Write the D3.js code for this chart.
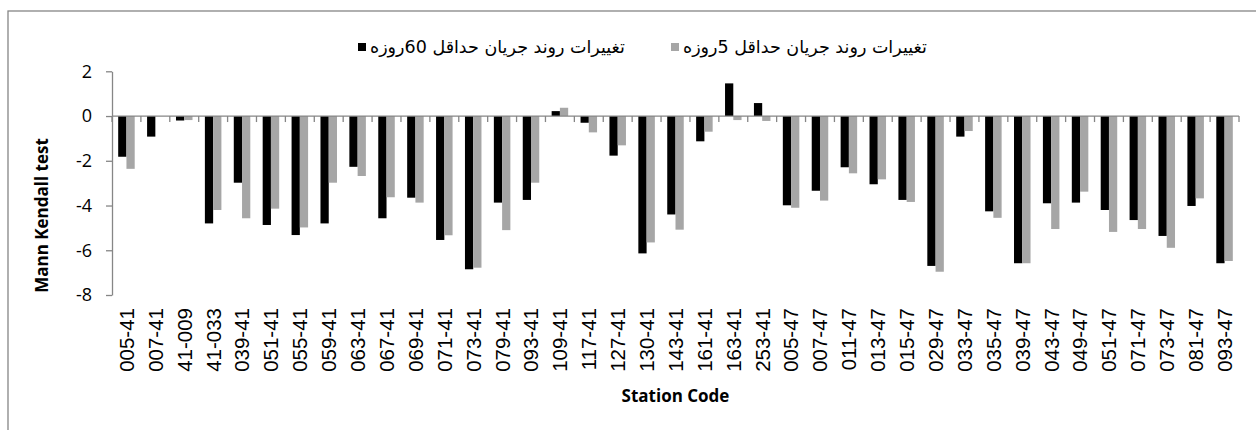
<!DOCTYPE html>
<html><head><meta charset="utf-8">
<script src="https://cdn.jsdelivr.net/npm/d3@7"></script>
<style>
html,body{margin:0;padding:0;background:#fff;}
svg{display:block;}
</style></head>
<body>
<svg id="chart" width="1256" height="430"></svg>
<script>
const categories = ["005-41","007-41","41-009","41-033","039-41","051-41","055-41","059-41","063-41","067-41","069-41","071-41","073-41","079-41","093-41","109-41","117-41","127-41","130-41","143-41","161-41","163-41","253-41","005-47","007-47","011-47","013-47","015-47","029-47","033-47","035-47","039-47","043-47","049-47","051-47","071-47","073-47","081-47","093-47"];
const min60 = [-1.82,-0.92,-0.2,-4.8,-2.98,-4.87,-5.32,-4.8,-2.27,-4.57,-3.65,-5.54,-6.85,-3.87,-3.75,0.22,-0.3,-1.77,-6.14,-4.4,-1.13,1.46,0.58,-3.99,-3.34,-2.29,-3.05,-3.75,-6.7,-0.92,-4.26,-6.58,-3.9,-3.87,-4.2,-4.65,-5.36,-4.02,-6.58];
const min5 = [-2.36,0,-0.18,-4.2,-4.57,-4.14,-4.98,-2.98,-2.68,-3.63,-3.87,-5.33,-6.78,-5.1,-2.98,0.37,-0.73,-1.31,-5.65,-5.08,-0.7,-0.18,-0.22,-4.1,-3.78,-2.56,-2.83,-3.84,-6.96,-0.67,-4.55,-6.58,-5.05,-3.38,-5.18,-5.05,-5.89,-3.68,-6.48];
const seriesNames = ["تغییرات روند جریان حداقل 60روزه","تغییرات روند جریان حداقل 5روزه"];
const seriesColors = ["#000000","#a6a6a6"];
const yTicks = [-8,-6,-4,-2,0,2];

const svg = d3.select("#chart");
const axisColor = "#868686";

// chart border
svg.append("rect").attr("x",8).attr("y",11).attr("width",1300).attr("height",500)
  .attr("fill","none").attr("stroke",axisColor).attr("stroke-width",1.3);

const x = d3.scaleBand().domain(categories).range([112,1239]).paddingInner(0).paddingOuter(0);
const x1 = d3.scaleBand().domain([0,1]).range([0,x.bandwidth()]).paddingInner(0).paddingOuter(0.75);
const y = d3.scaleLinear().domain([-8,2]).range([295,71.3]);

const data = categories.map((c,i)=>({c, v:[min60[i],min5[i]]}));

// bars
const g = svg.append("g");
data.forEach(d=>{
  d.v.forEach((v,s)=>{
    g.append("rect")
      .attr("x", x(d.c)+x1(s))
      .attr("width", x1.bandwidth())
      .attr("y", Math.min(y(v),y(0)))
      .attr("height", Math.abs(y(v)-y(0)))
      .attr("fill", seriesColors[s]);
  });
});

// y axis
const yAxis = d3.axisLeft(y).tickValues(yTicks).tickSize(6).tickSizeOuter(0).tickFormat(d3.format("d"));
const ya = svg.append("g").attr("transform","translate(112,0)").call(yAxis);
ya.select(".domain").attr("stroke",axisColor).attr("stroke-width",1.3);
ya.selectAll(".tick line").attr("stroke",axisColor).attr("stroke-width",1.3);
ya.selectAll(".tick text").attr("x",-20).attr("font-family","Open Sans").attr("font-size",18).attr("fill","#000")
  .text(d=> d<0 ? "-"+Math.abs(d) : d);

// category axis at zero
const zeroY = y(0);
svg.append("line").attr("x1",112).attr("x2",1239).attr("y1",zeroY).attr("y2",zeroY)
  .attr("stroke",axisColor).attr("stroke-width",1.3);
const bounds = categories.map(c=>x(c)).concat([x.range()[1]]);
svg.append("g").selectAll("line").data(bounds).join("line")
  .attr("x1",d=>d).attr("x2",d=>d).attr("y1",zeroY).attr("y2",zeroY+6)
  .attr("stroke",axisColor).attr("stroke-width",1.3);

// category labels
svg.append("g").selectAll("text").data(categories).join("text")
  .attr("transform",d=>`translate(${x(d)+x.bandwidth()/2},308) rotate(-90)`)
  .attr("text-anchor","end").attr("dy","0.36em")
  .attr("font-family","Liberation Sans").attr("font-size",20.5).attr("fill","#000")
  .text(d=>d);

// axis titles
svg.append("text").attr("x",675.5).attr("y",402).attr("text-anchor","middle")
  .attr("font-family","Open Sans").attr("font-weight","bold").attr("font-size",17).attr("fill","#000")
  .text("Station Code");
svg.append("text").attr("transform","translate(48,215.5) rotate(-90)").attr("text-anchor","middle")
  .attr("font-family","Open Sans").attr("font-weight","bold").attr("font-size",17).attr("fill","#000")
  .text("Mann Kendall test");

// legend
const legendPos = [{sq:358, tx:370},{sq:671, tx:683}];
const leg = svg.append("g");
const texts = [];
seriesNames.forEach((n,i)=>{
  leg.append("rect").attr("x",legendPos[i].sq).attr("y",43).attr("width",8).attr("height",8).attr("fill",seriesColors[i]);
  const t = leg.append("text").attr("x",legendPos[i].tx).attr("y",47).attr("dominant-baseline","central")
    .attr("text-anchor","start").attr("font-family","DejaVu Sans").attr("font-size",16).attr("fill","#000").text(n);
  texts.push(t);
});
const w0 = texts[0].node().getComputedTextLength();
const fs = 16*255/w0;
texts.forEach(t=>t.attr("font-size",fs));
</script>
</body></html>
